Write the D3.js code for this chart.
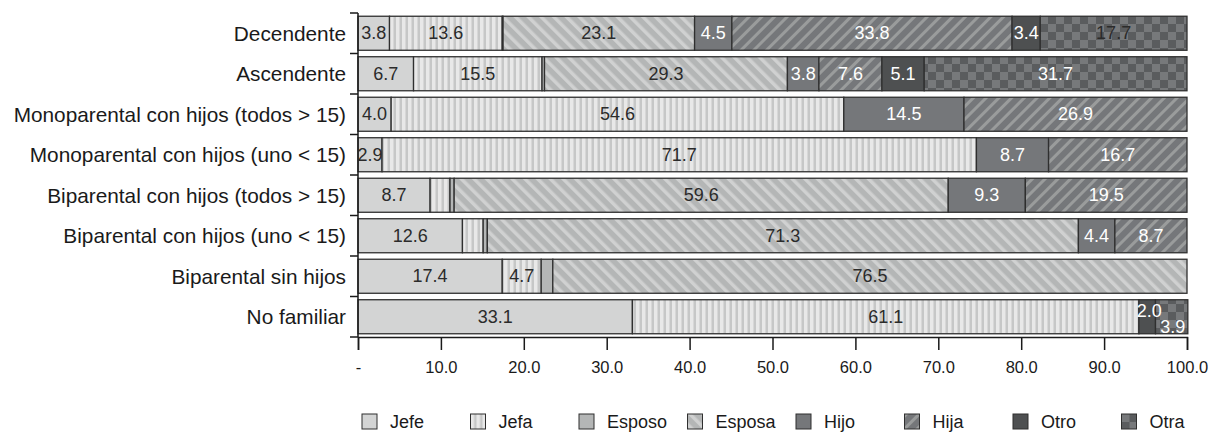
<!DOCTYPE html>
<html>
<head>
<meta charset="utf-8">
<script src="https://cdn.jsdelivr.net/npm/d3@7"></script>
<style>
  html, body { margin: 0; padding: 0; background: #fff; }
  svg { display: block; font-family: "Liberation Sans", Arial, sans-serif; }
</style>
</head>
<body>
<svg id="chart" width="1210" height="432"></svg>
<script>
// Household types, top to bottom
const categories = [
  "Decendente",
  "Ascendente",
  "Monoparental con hijos (todos > 15)",
  "Monoparental con hijos (uno < 15)",
  "Biparental con hijos (todos > 15)",
  "Biparental con hijos (uno < 15)",
  "Biparental sin hijos",
  "No familiar"
];

// Share (%) of each relationship within each household type
const seriesNames = ["Jefe", "Jefa", "Esposo", "Esposa", "Hijo", "Hija", "Otro", "Otra"];
const jefe   = [3.8, 6.7, 4.0, 2.9, 8.7, 12.6, 17.4, 33.1];
const jefa   = [13.6, 15.5, 54.6, 71.7, 2.4, 2.5, 4.7, 61.1];
const esposo = [0.1, 0.3, 0, 0, 0.5, 0.5, 1.4, 0];
const esposa = [23.1, 29.3, 0, 0, 59.6, 71.3, 76.5, 0];
const hijo   = [4.5, 3.8, 14.5, 8.7, 9.3, 4.4, 0, 0];
const hija   = [33.8, 7.6, 26.9, 16.7, 19.5, 8.7, 0, 0];
const otro   = [3.4, 5.1, 0, 0, 0, 0, 0, 2.0];
const otra   = [17.7, 31.7, 0, 0, 0, 0, 0, 3.9];

const xTicks = [0, 10, 20, 30, 40, 50, 60, 70, 80, 90, 100];
const xTickLabels = ["-", "10.0", "20.0", "30.0", "40.0", "50.0", "60.0", "70.0", "80.0", "90.0", "100.0"];

const seriesValues = [jefe, jefa, esposo, esposa, hijo, hija, otro, otra];

// Fill (solid colour or pattern id) and label colour for each series
const fills = ["#d3d4d4", "url(#pJefa)", "#b4b6b6", "url(#pEsposa)", "#75777a", "url(#pHija)", "#4e5051", "url(#pOtra)"];
const labelColors = ["#2b2b2b", "#2b2b2b", "#2b2b2b", "#2b2b2b", "#ffffff", "#ffffff", "#ffffff", "#ffffff"];
// individual label colour exceptions
const labelColorOverride = { "Decendente|Otra": "#2b2b2b" };
// small segments whose labels are moved off-centre so they stay readable
const labelNudge = { "No familiar|Otro": [2, -6], "No familiar|Otra": [1, 10] };
const minLabelValue = 2.8;

const rows = categories.map((c, i) => {
  const r = { category: c };
  seriesNames.forEach((s, j) => { r[s] = seriesValues[j][i]; });
  return r;
});

const svg = d3.select("#chart");
const margin = { left: 358, right: 23, top: 13, bottom: 95 };
const W = 1210, H = 432;

const x = d3.scaleLinear().domain([0, 100]).range([margin.left, W - margin.right]);
const y = d3.scaleBand().domain(categories).range([margin.top, H - margin.bottom])
  .paddingInner(0.16).paddingOuter(0.08);

// Patterns
const defs = svg.append("defs");
const pJefa = defs.append("pattern").attr("id", "pJefa").attr("patternUnits", "userSpaceOnUse")
  .attr("width", 6).attr("height", 6);
pJefa.append("rect").attr("width", 6).attr("height", 6).attr("fill", "#e8e8e8");
pJefa.append("rect").attr("x", 3.5).attr("width", 2.5).attr("height", 6).attr("fill", "#c6c7c7");

const pEsposa = defs.append("pattern").attr("id", "pEsposa").attr("patternUnits", "userSpaceOnUse")
  .attr("width", 9).attr("height", 9).attr("patternTransform", "rotate(-45)");
pEsposa.append("rect").attr("width", 9).attr("height", 9).attr("fill", "#b4b6b6");
pEsposa.append("rect").attr("width", 3.5).attr("height", 9).attr("fill", "#d0d1d1");

const pHija = defs.append("pattern").attr("id", "pHija").attr("patternUnits", "userSpaceOnUse")
  .attr("width", 9).attr("height", 9).attr("patternTransform", "rotate(45)");
pHija.append("rect").attr("width", 9).attr("height", 9).attr("fill", "#75777a");
pHija.append("rect").attr("width", 3).attr("height", 9).attr("fill", "#9a9c9c");

const pOtra = defs.append("pattern").attr("id", "pOtra").attr("patternUnits", "userSpaceOnUse")
  .attr("width", 16).attr("height", 16);
pOtra.append("rect").attr("width", 16).attr("height", 16).attr("fill", "#5a5c5e");
pOtra.append("rect").attr("width", 8).attr("height", 8).attr("fill", "#77797b");
pOtra.append("rect").attr("x", 8).attr("y", 8).attr("width", 8).attr("height", 8).attr("fill", "#77797b");

// Stacked bars
const stacked = d3.stack().keys(seriesNames)(rows);

const layers = svg.append("g").selectAll("g").data(stacked).join("g")
  .attr("fill", (d, i) => fills[i]);

layers.selectAll("rect").data(d => d.map(p => ({ p, key: d.key })))
  .join("rect")
  .filter(d => d.p[1] - d.p[0] > 0)
  .attr("x", d => x(d.p[0]))
  .attr("y", d => y(d.p.data.category))
  .attr("width", d => x(d.p[1]) - x(d.p[0]))
  .attr("height", y.bandwidth())
  .attr("stroke", "#2f2f2f")
  .attr("stroke-width", 1.3);

// Value labels
const labels = [];
stacked.forEach((layer, si) => {
  layer.forEach(p => {
    const v = p[1] - p[0];
    const key = p.data.category + "|" + layer.key;
    if (v >= minLabelValue || labelNudge[key]) {
      const n = labelNudge[key] || [0, 0];
      labels.push({
        text: v.toFixed(1),
        cx: x((p[0] + p[1]) / 2) + n[0],
        cy: y(p.data.category) + y.bandwidth() / 2 + n[1],
        color: labelColorOverride[key] || labelColors[si]
      });
    }
  });
});
svg.append("g").selectAll("text").data(labels).join("text")
  .attr("x", d => d.cx).attr("y", d => d.cy)
  .attr("text-anchor", "middle").attr("dominant-baseline", "central")
  .attr("font-size", 18).attr("fill", d => d.color)
  .text(d => d.text);

// Y axis: line, ticks at band boundaries, category labels
const yAxis = svg.append("g");
yAxis.append("line")
  .attr("x1", margin.left).attr("x2", margin.left)
  .attr("y1", margin.top).attr("y2", H - margin.bottom)
  .attr("stroke", "#1a1a1a").attr("stroke-width", 1.5);
const bounds = categories.map(c => y(c) - y.step() * y.paddingInner() / 2);
bounds[0] = margin.top;
bounds.push(H - margin.bottom);
yAxis.selectAll("line.tick").data(bounds).join("line").attr("class", "tick")
  .attr("x1", margin.left - 8).attr("x2", margin.left)
  .attr("y1", d => d).attr("y2", d => d)
  .attr("stroke", "#1a1a1a").attr("stroke-width", 1.5);
yAxis.selectAll("text").data(categories).join("text")
  .attr("x", margin.left - 12)
  .attr("y", d => y(d) + y.bandwidth() / 2)
  .attr("text-anchor", "end").attr("dominant-baseline", "central")
  .attr("font-size", 20.8).attr("fill", "#1a1a1a")
  .text(d => d);

// X axis
const xAxis = d3.axisBottom(x).tickValues(xTicks)
  .tickFormat((d, i) => xTickLabels[i]).tickSize(13).tickPadding(11);
const gx = svg.append("g").attr("transform", `translate(0,${H - margin.bottom})`).call(xAxis);
gx.select(".domain").attr("stroke", "#1a1a1a").attr("stroke-width", 1.5);
gx.selectAll(".tick line").attr("stroke", "#1a1a1a").attr("stroke-width", 1.5);
gx.selectAll(".tick text").attr("font-size", 16.5).attr("fill", "#1a1a1a")
  .attr("font-family", "'Liberation Sans', Arial, sans-serif");

// Legend
const legend = svg.append("g").attr("transform", "translate(362,414)");
const item = legend.selectAll("g").data(seriesNames).join("g")
  .attr("transform", (d, i) => `translate(${i * 108.5},0)`);
item.append("rect").attr("width", 15).attr("height", 15)
  .attr("fill", (d, i) => fills[i]).attr("stroke", "#2f2f2f").attr("stroke-width", 1);
item.append("text").attr("x", 28).attr("y", 8)
  .attr("dominant-baseline", "central").attr("font-size", 18).attr("fill", "#1a1a1a")
  .text(d => d);
</script>
</body>
</html>
